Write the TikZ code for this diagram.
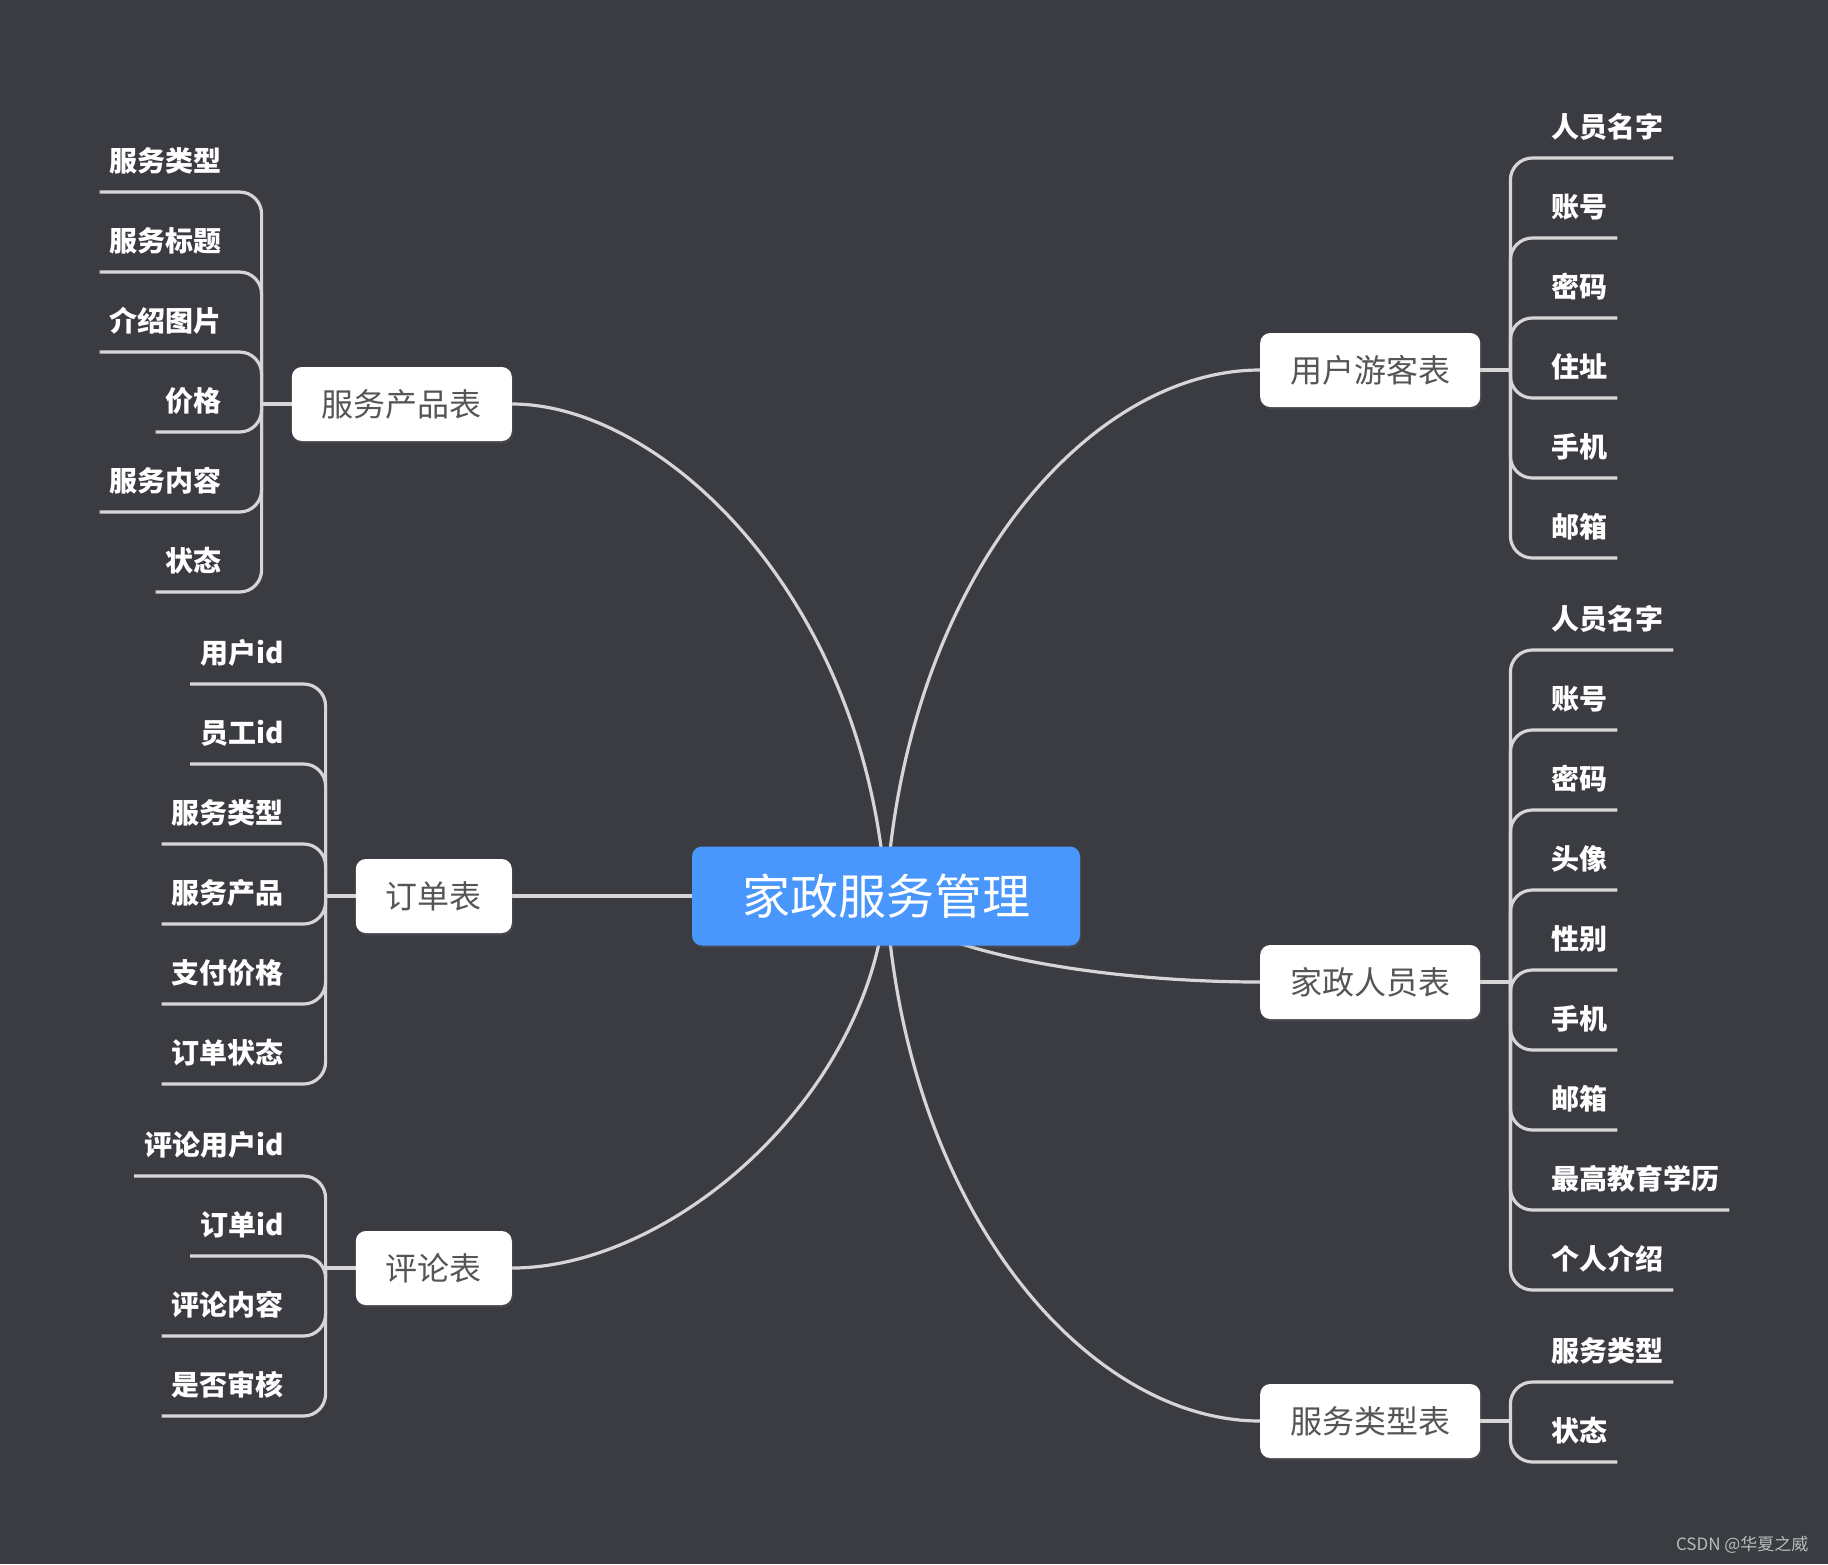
\documentclass[tikz,border=0pt]{standalone}
\usepackage{fontspec}
\setmainfont{Noto Sans CJK SC}
\usetikzlibrary{backgrounds,shadows}
\definecolor{nen}{RGB}{58,60,66}
\definecolor{xanh}{RGB}{73,150,252}
\definecolor{vien}{RGB}{214,214,214}
\definecolor{chu}{RGB}{85,85,85}
\begin{document}
\begin{tikzpicture}[x=1pt, y=-1pt, line cap=round, line join=round,
	nhanh/.style={draw=vien, line width=3.2pt},
	goc/.style={fill=xanh, text=white, rounded corners=10pt, minimum height=99pt, inner xsep=50pt, font=\fontsize{48}{56}\selectfont, drop shadow={opacity=.15, shadow xshift=1.5pt, shadow yshift=-2.5pt}},
	bang/.style={fill=white, text=chu, rounded corners=10pt, minimum height=74pt, inner xsep=30pt, font=\fontsize{32}{38}\selectfont, drop shadow={opacity=.15, shadow xshift=1.5pt, shadow yshift=-2.5pt}},
	truong/.style={text=white, inner xsep=10pt, inner ysep=0pt, text height=26pt, text depth=20.5pt, font=\fontsize{28}{32}\selectfont\bfseries}]
	\useasboundingbox (0,0) rectangle (1828,1564);
	% chủ đề trung tâm và các bảng
	\node[goc] (goc) at (886,896) {家政服务管理};
	\node[bang, anchor=east] (sp) at (512,404) {服务产品表};
	\node[bang, anchor=east] (dd) at (512,896) {订单表};
	\node[bang, anchor=east] (pl) at (512,1268) {评论表};
	\node[bang, anchor=west] (yh) at (1260,370) {用户游客表};
	\node[bang, anchor=west] (ry) at (1260,982) {家政人员表};
	\node[bang, anchor=west] (lx) at (1260,1421) {服务类型表};
	\foreach \b in {sp,dd,pl} \coordinate (j\b) at ([xshift=-30pt]\b.west);
	\foreach \b in {yh,ry,lx} \coordinate (j\b) at ([xshift=30pt]\b.east);
	% các trường
	\foreach \t [count=\i] in {服务类型,服务标题,介绍图片,价格,服务内容,状态}
		\node[truong, anchor=south east] (sp\i) at (232,112+80*\i) {\t};
	\foreach \t [count=\i] in {用户id,员工id,服务类型,服务产品,支付价格,订单状态}
		\node[truong, anchor=south east] (dd\i) at (294,604+80*\i) {\t};
	\foreach \t [count=\i] in {评论用户id,订单id,评论内容,是否审核}
		\node[truong, anchor=south east] (pl\i) at (294,1096+80*\i) {\t};
	\foreach \t [count=\i] in {人员名字,账号,密码,住址,手机,邮箱}
		\node[truong, anchor=south west] (yh\i) at (1541,78+80*\i) {\t};
	\foreach \t [count=\i] in {人员名字,账号,密码,头像,性别,手机,邮箱,最高教育学历,个人介绍}
		\node[truong, anchor=south west] (ry\i) at (1541,570+80*\i) {\t};
	\foreach \t [count=\i] in {服务类型,状态}
		\node[truong, anchor=south west] (lx\i) at (1541,1302+80*\i) {\t};
	\node[anchor=east, text=white!65!nen, font=\fontsize{17}{20}\selectfont] (wm) at (1812,1545) {CSDN @华夏之威};
	\begin{scope}[on background layer]
		\fill[nen] (0,0) rectangle (1828,1564);
		\draw[nhanh] (goc.center) .. controls (866,596) and (662,404) .. (sp.east);
		\draw[nhanh] (goc.center) -- (dd.east);
		\draw[nhanh] (goc.center) .. controls (871,1096) and (672,1268) .. (pl.east);
		\draw[nhanh] (goc.center) .. controls (906,576) and (1090,370) .. (yh.west);
		\draw[nhanh] (goc.center) .. controls (906,948) and (1090,982) .. (ry.west);
		\draw[nhanh] (goc.center) .. controls (906,1216) and (1090,1421) .. (lx.west);
		\foreach \b in {sp,dd,pl,yh,ry,lx} \draw[nhanh] (\b) -- (j\b);
		\foreach \i in {1,...,6} \draw[nhanh, rounded corners=22pt] (jsp) |- (sp\i.south west);
		\foreach \i in {1,...,6} \draw[nhanh, rounded corners=22pt] (jdd) |- (dd\i.south west);
		\foreach \i in {1,...,4} \draw[nhanh, rounded corners=22pt] (jpl) |- (pl\i.south west);
		\foreach \i in {1,...,6} \draw[nhanh, rounded corners=22pt] (jyh) |- (yh\i.south east);
		\foreach \i in {1,...,9} \draw[nhanh, rounded corners=22pt] (jry) |- (ry\i.south east);
		\foreach \i in {1,2} \draw[nhanh, rounded corners=22pt] (jlx) |- (lx\i.south east);
	\end{scope}
\end{tikzpicture}
\end{document}
